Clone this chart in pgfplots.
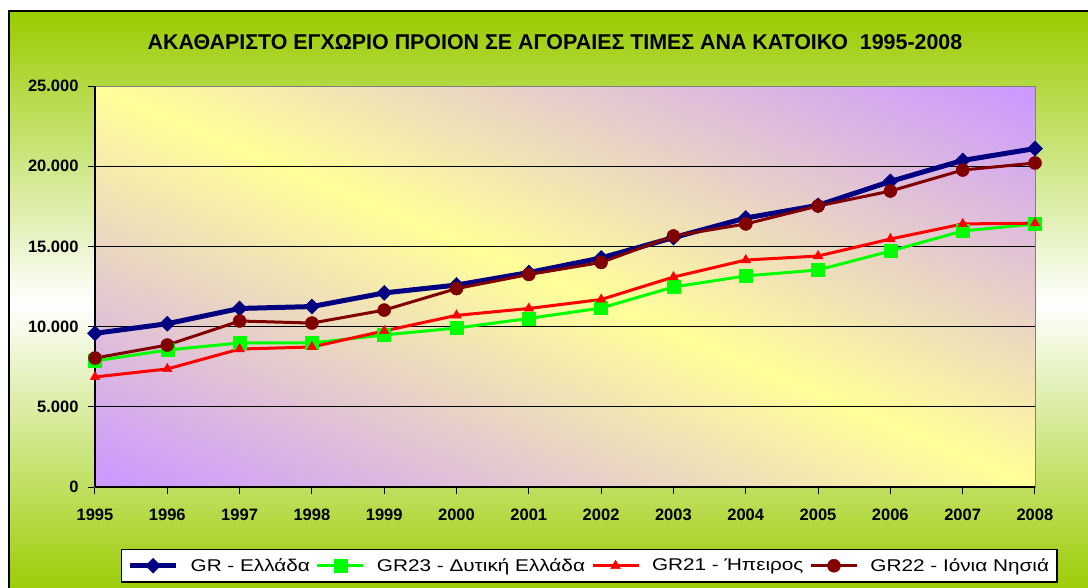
\documentclass[border=0pt]{standalone}
\usepackage{pgfplots}
\pgfplotsset{compat=1.18}
\usepackage{fontspec}
\setmainfont{Liberation Sans}
\newfontfamily\legendfont[FakeStretch=1.22]{Liberation Sans}
\definecolor{gtop}{RGB}{153,204,0}
\definecolor{pbg}{RGB}{204,153,255}
\definecolor{ybg}{RGB}{255,255,153}
\definecolor{navy}{RGB}{0,0,128}
\definecolor{lgreen}{RGB}{0,255,0}
\definecolor{brown}{RGB}{128,0,0}
\pgfdeclarehorizontalshading{plotbg}{100bp}{color(0bp)=(pbg); color(18bp)=(pbg); color(50bp)=(ybg); color(82bp)=(pbg); color(100bp)=(pbg)}
\begin{document}
\begin{tikzpicture}[x=1pt,y=1pt]
\useasboundingbox (0,0) rectangle (1088,587);
\shade[top color=gtop, bottom color=gtop, middle color=white] (9,-10) rectangle (1100,576);
\draw[black, line width=1.5pt] (9,-10) -- (9,576) -- (1100,576);
\node[font=\fontsize{21.4}{25}\selectfont\bfseries] at (555,545) {ΑΚΑΘΑΡΙΣΤΟ ΕΓΧΩΡΙΟ ΠΡΟΙΟΝ ΣΕ ΑΓΟΡΑΙΕΣ ΤΙΜΕΣ ΑΝΑ ΚΑΤΟΙΚΟ\ \ 1995-2008};
\begin{axis}[
  at={(95pt,100pt)}, anchor=south west,
  scale only axis, width=940pt, height=401pt,
  xmin=1995, xmax=2008, ymin=0, ymax=25000,
  xtick={1995,...,2008}, ytick={0,5000,...,25000},
  xticklabel style={/pgf/number format/1000 sep={}, yshift=-11pt},
  yticklabel style={/pgf/number format/1000 sep={.}, xshift=-6pt},
  /pgf/number format/assume math mode=true,
  scaled y ticks=false,
  tick label style={font=\fontsize{16.5}{19}\selectfont\bfseries},
  tick align=outside, xtick pos=bottom, ytick pos=left,
  major tick length=7pt,
  tick style={black, line width=1pt},
  ymajorgrids, grid style={black, line width=1pt},
  axis line style={gray, line width=1pt},
  axis background/.style={shade, shading=plotbg, shading angle=67},
  clip=false,
  legend columns=4,
  legend style={at={(0.0277,-0.1546)}, anchor=north west, draw=black, line width=1.2pt, fill=white,
    font=\fontsize{17}{20}\selectfont\legendfont, inner xsep=6pt, inner ysep=7pt,
    /tikz/every even column/.append style={column sep=4pt},
    /tikz/every odd column/.append style={column sep=10pt}},
  legend image code/.code={\draw[mark repeat=2, mark phase=2, #1] plot coordinates {(0pt,0pt) (23pt,0pt) (46pt,0pt)};},
]
\draw[black, line width=1.5pt] (rel axis cs:0,0) -- (rel axis cs:0,1);
\draw[black, line width=1.5pt] (rel axis cs:0,0) -- (rel axis cs:1,0);
\addplot[navy, line width=5pt, mark=square*, mark size=5.3pt, mark options={rotate=45, solid, fill=navy, draw=navy, line width=0.5pt}] coordinates {
(1995,9580) (1996,10180) (1997,11130) (1998,11250) (1999,12100) (2000,12590) (2001,13370)
(2002,14280) (2003,15550) (2004,16770) (2005,17560) (2006,19050) (2007,20360) (2008,21100)};
\addlegendentry{GR - Ελλάδα}
\addplot[lgreen, line width=3pt, mark=square*, mark size=6.5pt, mark options={solid, fill=lgreen, draw=lgreen, line width=0.5pt}] coordinates {
(1995,7860) (1996,8540) (1997,8980) (1998,8980) (1999,9480) (2000,9910) (2001,10510)
(2002,11160) (2003,12470) (2004,13160) (2005,13530) (2006,14710) (2007,15960) (2008,16400)};
\addlegendentry{GR23 - Δυτική Ελλάδα}
\addplot[red, line width=3pt, mark=triangle*, mark size=5.5pt, mark options={solid, fill=red, draw=red, line width=0.5pt}] coordinates {
(1995,6860) (1996,7360) (1997,8600) (1998,8730) (1999,9730) (2000,10700) (2001,11130)
(2002,11690) (2003,13090) (2004,14150) (2005,14400) (2006,15460) (2007,16400) (2008,16450)};
\addlegendentry{GR21 - Ήπειρος}
\addplot[brown, line width=3pt, mark=*, mark size=6.5pt, mark options={solid, fill=brown, draw=brown, line width=0.5pt}] coordinates {
(1995,8040) (1996,8850) (1997,10350) (1998,10220) (1999,11030) (2000,12370) (2001,13250)
(2002,14000) (2003,15650) (2004,16400) (2005,17520) (2006,18450) (2007,19760) (2008,20200)};
\addlegendentry{GR22 - Ιόνια Νησιά}
\end{axis}
\end{tikzpicture}
\end{document}
